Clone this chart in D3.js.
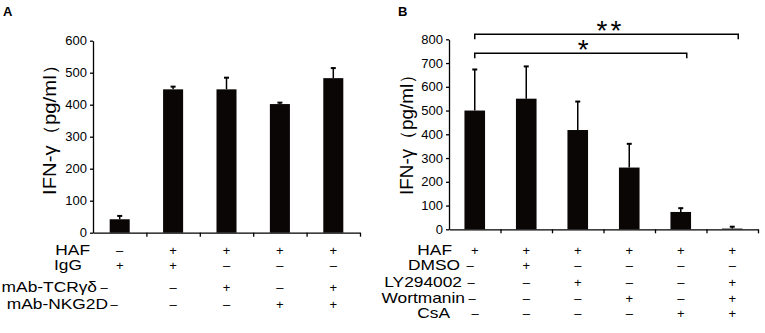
<!DOCTYPE html>
<html>
<head>
<meta charset="utf-8">
<script src="https://cdn.jsdelivr.net/npm/d3@7"></script>
<style>
	body { margin: 0; background: #fff; }
	svg { display: block; font-family: "Liberation Sans", Arial, sans-serif; }
</style>
</head>
<body>
<svg id="chart" width="765" height="333"></svg>
<script>
// Panel A data
const valuesA = [42, 448, 448, 402, 483]
const errorsA = [12, 10, 38, 6, 33]
const ticksA = [0, 100, 200, 300, 400, 500, 600]
const rowLabelsA = ["HAF", "IgG", "mAb-TCRγδ", "mAb-NKG2D"]
const signsA = [
	["–", "+", "+", "+", "+"],
	["+", "+", "–", "–", "–"],
	["–", "–", "+", "–", "+"],
	["–", "–", "–", "+", "+"],
]

// Panel B data
const valuesB = [500, 550, 418, 260, 73, 3]
const errorsB = [175, 138, 122, 102, 18, 10]
const ticksB = [0, 100, 200, 300, 400, 500, 600, 700, 800]
const rowLabelsB = ["HAF", "DMSO", "LY294002", "Wortmanin", "CsA"]
const signsB = [
	["+", "+", "+", "+", "+", "+"],
	["–", "+", "–", "–", "–", "–"],
	["–", "–", "+", "–", "–", "+"],
	["–", "–", "–", "+", "–", "+"],
	["–", "–", "–", "–", "+", "+"],
]
// significance brackets: from bar index to bar index, label
const bracketsB = [
	{ from: 0, to: 5, label: "**" },
	{ from: 0, to: 4, label: "*" },
]

const yLabel = "IFN-γ（pg/ml）"

const svg = d3.select("#chart")

function panel(opts) {
	/* Draw one bar panel with error bars and the +/- table below it */
	const g = svg.append("g")
	const n = opts.values.length

	const x = d3.scaleBand()
		.domain(d3.range(n))
		.range(opts.xRange)
	const y = d3.scaleLinear()
		.domain([0, d3.max(opts.ticks)])
		.range(opts.yRange)
	const edges = d3.scaleLinear()
		.domain([0, n])
		.range(opts.xRange)
	const barW = x.bandwidth() * opts.barFrac
	const cx = i => x(i) + x.bandwidth() / 2

	// y axis
	g.append("g")
		.attr("transform", `translate(${opts.xRange[0]},0)`)
		.call(d3.axisLeft(y).tickValues(opts.ticks).tickSize(3).tickSizeOuter(0).tickPadding(3))
		.call(a => a.selectAll("text").attr("font-size", 13).attr("fill", "#000").attr("font-family", null))
		.call(a => a.selectAll("path, line").attr("stroke", "#000").attr("stroke-width", 1.3))

	// x axis, ticks between categories
	g.append("g")
		.attr("transform", `translate(0,${y(0)})`)
		.call(d3.axisBottom(edges).tickValues(d3.range(1, n + 1)).tickFormat("").tickSize(4).tickSizeOuter(0))
		.call(a => a.selectAll("path, line").attr("stroke", "#000").attr("stroke-width", 1.3))

	// error bars
	const err = g.append("g")
		.attr("stroke", "#000")
		.selectAll("g")
		.data(opts.values.map((v, i) => ({ v, e: opts.errors[i], i })))
		.join("g")
	err.append("line")
		.attr("x1", d => cx(d.i))
		.attr("x2", d => cx(d.i))
		.attr("y1", d => y(d.v))
		.attr("y2", d => y(d.v + d.e))
		.attr("stroke-width", 1.5)
	err.append("line")
		.attr("x1", d => cx(d.i) - 2.5)
		.attr("x2", d => cx(d.i) + 2.5)
		.attr("y1", d => y(d.v + d.e) + 0.5)
		.attr("y2", d => y(d.v + d.e) + 0.5)
		.attr("stroke-width", 2)

	// bars
	g.append("g")
		.selectAll("rect")
		.data(opts.values)
		.join("rect")
		.attr("x", (d, i) => cx(i) - barW / 2)
		.attr("y", d => y(d))
		.attr("width", barW)
		.attr("height", d => y(0) - y(d))
		.attr("fill", "#0a0606")

	// y label
	g.append("text")
		.attr("transform", `translate(${opts.yLabelPos[0]},${opts.yLabelPos[1]}) rotate(-90)`)
		.attr("text-anchor", "middle")
		.attr("font-size", 18)
		.attr("textLength", opts.yLabelLen)
		.attr("lengthAdjust", "spacingAndGlyphs")
		.text(yLabel)

	// panel letter
	g.append("text")
		.attr("x", opts.letterPos[0])
		.attr("y", opts.letterPos[1])
		.attr("font-size", 13)
		.attr("font-weight", "bold")
		.text(opts.letter)

	// +/- table
	opts.rowLabels.forEach((label, r) => {
		let base = opts.rowY[r]
		g.append("text")
			.attr("transform", `translate(${opts.labelEnd[r]},${base}) scale(1.24,1)`)
			.attr("text-anchor", "end")
			.attr("font-size", 14)
			.text(label)
		g.append("g")
			.selectAll("text")
			.data(opts.signs[r])
			.join("text")
			.attr("x", (s, i) => (i === 0 && opts.firstSignX[r] != null) ? opts.firstSignX[r] : cx(i))
			.attr("y", base - 0.5)
			.attr("text-anchor", "middle")
			.attr("font-size", 13)
			.text(s => s)
	})

	return { g, x, y, cx }
}

panel({
	letter: "A",
	letterPos: [3, 16],
	values: valuesA,
	errors: errorsA,
	ticks: ticksA,
	xRange: [93, 360],
	yRange: [232.7, 40.7],
	barFrac: 0.375,
	yLabelPos: [56, 125],
	yLabelLen: 140,
	rowLabels: rowLabelsA,
	signs: signsA,
	rowY: [255, 270, 292, 309],
	labelEnd: [90, 82, 97, 108],
	firstSignX: [null, null, 104, 114],
})

const pB = panel({
	letter: "B",
	letterPos: [398, 16],
	values: valuesB,
	errors: errorsB,
	ticks: ticksB,
	xRange: [449, 758],
	yRange: [229.3, 39.3],
	barFrac: 0.4,
	yLabelPos: [413, 130],
	yLabelLen: 130,
	rowLabels: rowLabelsB,
	signs: signsB,
	rowY: [255, 270, 287, 303, 318],
	labelEnd: [452, 460, 462, 465, 450],
	firstSignX: [null, 470, 471, 472, 475],
})

// significance brackets over panel B
const bracketY = [34.3, 53.3]
bracketsB.forEach((b, k) => {
	let x1 = pB.cx(b.from)
	let x2 = pB.cx(b.to) + 6
	let yy = bracketY[k]
	pB.g.append("path")
		.attr("d", `M${x1},${yy + 5} V${yy} H${x2} V${yy + 5}`)
		.attr("fill", "none")
		.attr("stroke", "#000")
		.attr("stroke-width", 1.5)
	pB.g.append("text")
		.attr("x", (x1 + x2) / 2 + 4)
		.attr("y", yy + 6)
		.attr("text-anchor", "middle")
		.attr("font-size", 28)
		.attr("letter-spacing", 3)
		.text(b.label)
})
</script>
</body>
</html>
